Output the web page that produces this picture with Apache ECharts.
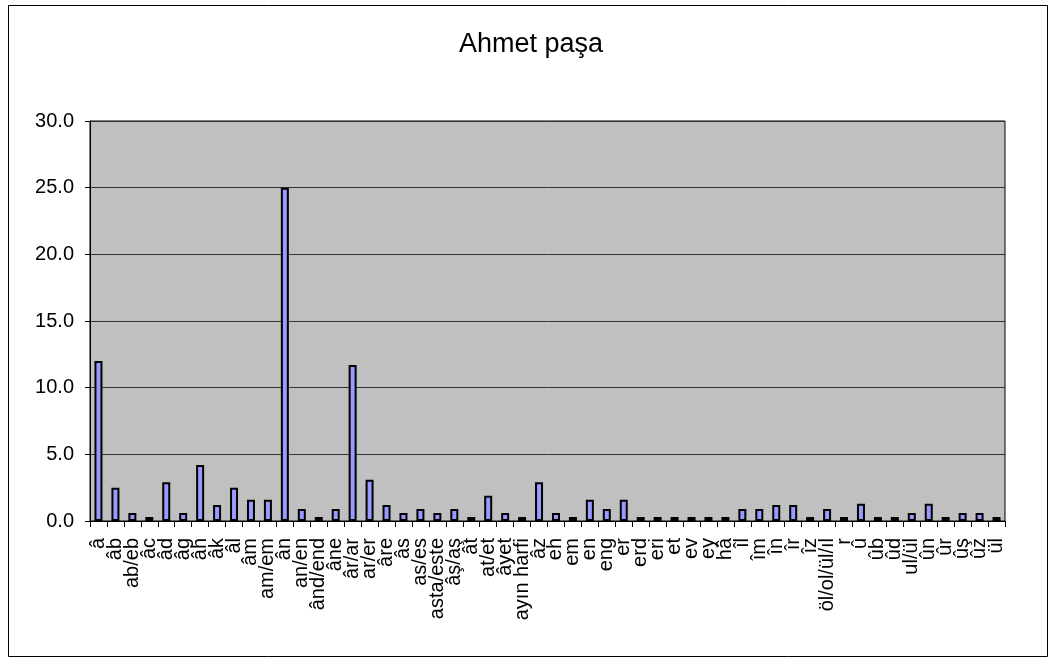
<!DOCTYPE html>
<html>
<head>
<meta charset="utf-8">
<script src="https://cdn.jsdelivr.net/npm/echarts@6/dist/echarts.min.js"></script>
<style>
  html, body { margin: 0; padding: 0; background: #fff; }
  #chart { width: 1049px; height: 658px; }
</style>
</head>
<body>
<div id="chart"></div>
<script>
var chartTitle = 'Ahmet paşa';

var categories = [
    'â', 'âb', 'ab/eb', 'âc', 'âd', 'âg', 'âh', 'âk', 'âl', 'âm', 'am/em', 'ân',
    'an/en', 'ând/end', 'âne', 'âr/ar', 'ar/er', 'âre', 'âs', 'as/es', 'asta/este', 'âş/aş',
    'ât', 'at/et', 'âyet', 'ayın harfi', 'âz', 'eh', 'em', 'en', 'eng', 'er', 'erd',
    'eri', 'et', 'ev', 'ey', 'hâ', 'îl', 'îm', 'în', 'îr', 'îz', 'öl/ol/ül/ıl', 'r',
    'û', 'ûb', 'ûd', 'ul/ül', 'ûn', 'ûr', 'ûş', 'ûz', 'ül'
];

var values = [
    12.0, 2.5, 0.6, 0.3, 2.9, 0.6, 4.2, 1.2, 2.5, 1.6, 1.6, 25.0,
    0.9, 0.3, 0.9, 11.7, 3.1, 1.2, 0.6, 0.9, 0.6, 0.9,
    0.3, 1.9, 0.6, 0.3, 2.9, 0.6, 0.3, 1.6, 0.9, 1.6, 0.3,
    0.3, 0.3, 0.3, 0.3, 0.3, 0.9, 0.9, 1.2, 1.2, 0.3, 0.9, 0.3,
    1.3, 0.3, 0.3, 0.6, 1.3, 0.3, 0.6, 0.6, 0.3
];

var yMin = 0, yMax = 30, yStep = 5;

var fontName = 'Liberation Sans, Arial, sans-serif';

var dom = document.getElementById('chart');
var myChart = echarts.init(dom, null, { renderer: 'canvas' });

var option = {
    animation: false,
    backgroundColor: '#ffffff',
    title: {
        text: chartTitle,
        left: 459,
        top: 31,
        padding: 0,
        textStyle: {
            color: '#000000',
            fontFamily: fontName,
            fontWeight: 'normal',
            fontSize: 27
        }
    },
    graphic: [
        {
            type: 'rect',
            shape: { x: 8.5, y: 5.5, width: 1039, height: 651 },
            style: { fill: 'none', stroke: '#000000', lineWidth: 1 },
            silent: true
        }
    ],
    grid: {
        left: 90,
        right: 44,
        top: 121,
        bottom: 137,
        show: true,
        backgroundColor: '#c0c0c0',
        borderColor: '#000000',
        borderWidth: 1
    },
    xAxis: {
        type: 'category',
        data: categories,
        axisLine: { lineStyle: { color: '#000000', width: 1 } },
        axisTick: { show: true, length: 6, lineStyle: { color: '#000000' } },
        axisLabel: {
            interval: 0,
            rotate: 90,
            margin: 17,
            color: '#000000',
            fontFamily: fontName,
            fontSize: 20
        },
        splitLine: { show: false }
    },
    yAxis: {
        type: 'value',
        min: yMin,
        max: yMax,
        interval: yStep,
        axisLine: { show: true, lineStyle: { color: '#000000', width: 1 } },
        axisTick: { show: true, length: 5, lineStyle: { color: '#000000' } },
        axisLabel: {
            margin: 16,
            color: '#000000',
            fontFamily: fontName,
            fontSize: 20,
            formatter: function (v) { return v.toFixed(1); }
        },
        splitLine: { show: true, lineStyle: { color: '#333333', width: 1 } }
    },
    series: [
        {
            type: 'bar',
            data: values,
            barWidth: 8,
            itemStyle: {
                color: '#9999ff',
                borderColor: '#000000',
                borderWidth: 2
            }
        }
    ]
};

myChart.setOption(option, true);
</script>
</body>
</html>
